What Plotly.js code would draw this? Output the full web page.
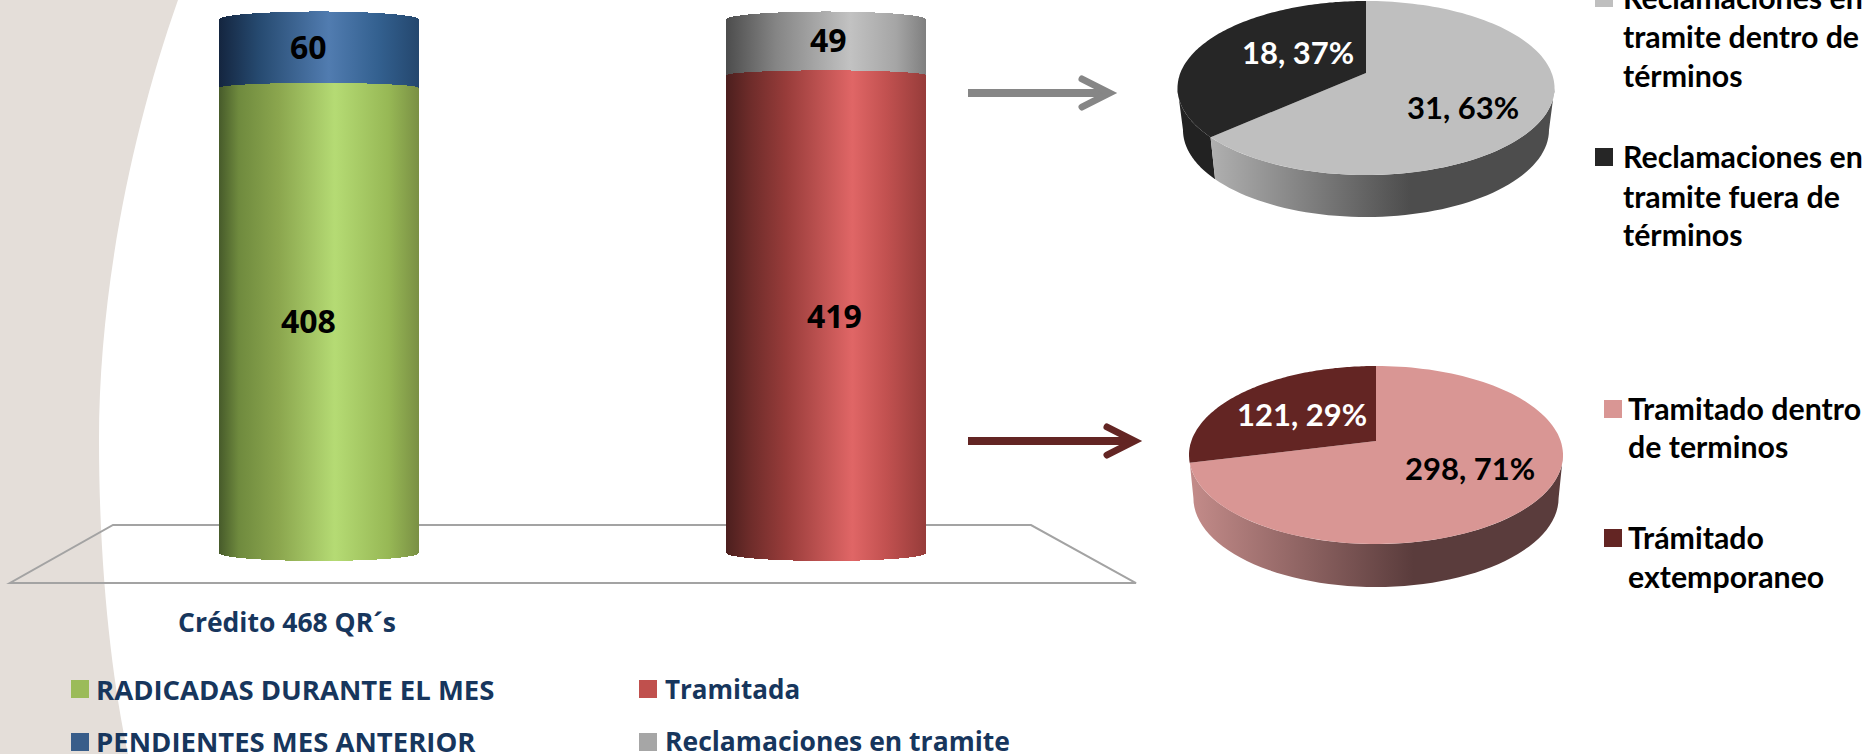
<!DOCTYPE html>
<html><head><meta charset="utf-8">
<script src="https://cdn.plot.ly/plotly-3.0.1.min.js"></script>
<style>html,body{margin:0;padding:0;background:#fff;overflow:hidden}</style>
</head><body><div id="chart" style="width:1868px;height:754px"></div>
<script>
// ---- data ----
const radicadas = 408, pendientes = 60, tramitada = 419, enTramite = 49;
const barSeriesNames = ["RADICADAS DURANTE EL MES", "PENDIENTES MES ANTERIOR", "Tramitada", "Reclamaciones en tramite"];
const categoryLabel = "Crédito 468 QR´s";
const pieTopValues = [31, 18];
const pieTopNames = ["Reclamaciones en tramite dentro de términos", "Reclamaciones en tramite fuera de términos"];
const pieBottomValues = [298, 121];
const pieBottomNames = ["Tramitado dentro de terminos", "Trámitado extemporaneo"];

// ---- helpers ----
const W = 1868, H = 754;
const fx = x => x / W, fy = y => 1 - y / H;
const NAVY = "#17365D";
const LEFT = "Open Sans, sans-serif", RIGHT = "Lato, sans-serif";
const pathOf = pts => "M" + pts.map(p => fx(p[0]).toFixed(5) + "," + fy(p[1]).toFixed(5)).join("L");
const rect = (x0, y0, x1, y1, color) => ({type:"rect", xref:"paper", yref:"paper", layer:"below",
  x0:fx(x0), x1:fx(x1), y0:fy(y0), y1:fy(y1), fillcolor:color, line:{width:0}});
const label = (text, x, y, size, color, family, anchor) => ({text, x:fx(x), y:fy(y), xref:"paper", yref:"paper",
  xanchor:anchor||"left", yanchor:"middle", showarrow:false, font:{family, size, color, weight:700}});

// perspective projection of a pie rim: true angle -> point on the ellipse
function rim(p, frac) {
  const t = frac * 2 * Math.PI, u = Math.sin(t), v = -Math.cos(t);
  const d = 1 + p.b * v;
  return [u * Math.sqrt(1 - p.b * p.b) / d, (v + p.b) / d];
}
const rimXY = (p, frac) => { const r = rim(p, frac); return [p.cx + r[0] * p.rx, p.cy + r[1] * p.ry]; };
function wall(p, phiA, phiB) {
  const top = [], bot = [], N = 60;
  for (let i = 0; i <= N; i++) {
    const f = phiA + (phiB - phiA) * i / N, s = Math.sin(f), c = Math.cos(f);
    top.push([p.cx + s * p.rx, p.cy + c * p.ry]);
    bot.unshift([p.cx + s * p.rxB, p.cyB + c * p.ry]);
  }
  return pathOf(top.concat(bot)) + "Z";
}
const pieTopGeo = {cx:1366, cy:88, rx:188.5, ry:87, b:-0.172, rxB:183, cyB:130};
const pieBotGeo = {cx:1376, cy:455, rx:187, ry:89, b:-0.157, rxB:182.6, cyB:498};

// ---- bars ----
const barWidth = 0.394;
const bars = [
  {x:[0], y:[radicadas], name:barSeriesNames[0], color:"#9BBB59"},
  {x:[0], y:[pendientes], name:barSeriesNames[1], color:"#385D8A"},
  {x:[1], y:[tramitada], name:barSeriesNames[2], color:"#C0504D"},
  {x:[1], y:[enTramite], name:barSeriesNames[3], color:"#A6A6A6"}
].map(b => ({type:"bar", x:b.x, y:b.y, name:b.name, width:barWidth, cliponaxis:false,
  marker:{color:b.color, line:{width:0}}, hoverinfo:"skip", showlegend:false, xaxis:"x", yaxis:"y"}));

const pieTrace = (values, names, colors, geo) => ({type:"pie", values, labels:names, sort:false, direction:"clockwise",
  rotation:0, textinfo:"none", hoverinfo:"skip", showlegend:false,
  marker:{colors, line:{width:0}},
  domain:{x:[fx(geo.cx-geo.rx), fx(geo.cx+geo.rx)], y:[fy(geo.cy+geo.ry), Math.min(1,fy(geo.cy-geo.ry))]}});
const pies = [
  pieTrace(pieTopValues, pieTopNames, ["#BFBFBF", "#262626"], pieTopGeo),
  pieTrace(pieBottomValues, pieBottomNames, ["#D99694", "#632523"], pieBotGeo)
];

// ---- gradients (sentinel fill -> stops) ----
const gradients = {
  "rgb(1, 0, 1)": [[0,"#B0B0B0"],[.58,"#4D4D4D"],[1,"#4D4D4D"]],
  "rgb(1, 0, 2)": [[0,"#C48C8A"],[.6,"#5A3C3C"],[1,"#5A3C3C"]]
};
const barGradients = [
  [[0,"#465A2A"],[.1,"#6F8A3E"],[.3,"#8BA64E"],[.58,"#B5DB74"],[.85,"#97B855"],[1,"#7A9044"]],
  [[0,"#14253F"],[.2,"#264A70"],[.55,"#517CB0"],[.8,"#33608F"],[1,"#24476E"]],
  [[0,"#4C1F1E"],[.12,"#6E2C2A"],[.3,"#983C3A"],[.63,"#E06666"],[.8,"#C25150"],[1,"#963C3A"]],
  [[0,"#4D4D4D"],[.25,"#858585"],[.62,"#C2C2C2"],[.85,"#A5A5A5"],[1,"#7F7F7F"]]
];

// ---- decoration ----
const split = rim(pieTopGeo, pieTopValues[0] / (pieTopValues[0] + pieTopValues[1]));
const splitPhi = Math.atan2(split[0], split[1]);
const shapes = [
  {type:"path", xref:"paper", yref:"paper", layer:"below", line:{width:0}, fillcolor:"#E4DED9",
   path:"M0,1 L"+fx(178)+",1 C"+fx(132)+","+fy(130)+" "+fx(99)+","+fy(290)+" "+fx(99)+","+fy(440)
     +" C"+fx(99)+","+fy(570)+" "+fx(112)+","+fy(680)+" "+fx(128)+",0 L0,0 Z"},
  {type:"path", xref:"paper", yref:"paper", layer:"below", fillcolor:"rgba(0,0,0,0)", line:{color:"#A3A3A3", width:2},
   path:pathOf([[113,525],[1031,525],[1136,583],[10,583]])+"Z"},
  rect(968, 89, 1108, 97, "#868686"),
  {type:"path", xref:"paper", yref:"paper", layer:"below", fillcolor:"rgba(0,0,0,0)", line:{color:"#868686", width:7},
   path:pathOf([[1082,79],[1109.5,93],[1082,107]])},
  rect(968, 437, 1134, 445, "#632523"),
  {type:"path", xref:"paper", yref:"paper", layer:"below", fillcolor:"rgba(0,0,0,0)", line:{color:"#632523", width:7},
   path:pathOf([[1107,427],[1134.5,441],[1107,455]])},
  // pie side walls
  {type:"path", xref:"paper", yref:"paper", layer:"below", line:{width:0}, fillcolor:"#222222",
   path:wall(pieTopGeo, -Math.PI/2, splitPhi)},
  {type:"path", xref:"paper", yref:"paper", layer:"below", line:{width:0}, fillcolor:"rgb(1,0,1)",
   path:wall(pieTopGeo, splitPhi, Math.PI/2)},
  {type:"path", xref:"paper", yref:"paper", layer:"below", line:{width:0}, fillcolor:"rgb(1,0,2)",
   path:wall(pieBotGeo, -Math.PI/2, Math.PI/2)},
  // legend swatches
  rect(71, 680, 89, 698, "#9BBB59"),
  rect(71, 733, 89, 751, "#385D8A"),
  rect(639, 680, 657, 698, "#C0504D"),
  rect(639, 733, 657, 751, "#A6A6A6"),
  rect(1595, -11, 1613, 7, "#BFBFBF"),
  rect(1595, 148, 1613, 166, "#262626"),
  rect(1604, 400, 1622, 418, "#D99694"),
  rect(1604, 529, 1622, 547, "#632523")
];

const valueLabel = (v, xCat, yMid, dx, dy) => ({text:String(v), x:xCat, y:yMid, xref:"x", yref:"y", xshift:dx, yshift:dy,
  showarrow:false, xanchor:"center", yanchor:"middle", font:{family:LEFT, size:32, color:"#000", weight:700}});
const pieText = (values, i) => values[i] + ", " + Math.round(100 * values[i] / values.reduce((a,b)=>a+b)) + "%";

const annotations = [
  valueLabel(radicadas, 0, radicadas/2, -10, 0),
  valueLabel(pendientes, 0, radicadas+pendientes/2, -10, 7),
  valueLabel(tramitada, 1, tramitada/2, 8, -1),
  valueLabel(enTramite, 1, tramitada+enTramite/2, 2, 8),
  label(categoryLabel, 287, 622, 26.5, NAVY, LEFT, "center"),
  label(barSeriesNames[0], 94, 689, 27.5, NAVY, LEFT),
  label(barSeriesNames[1], 94, 741, 27.5, NAVY, LEFT),
  label(barSeriesNames[2], 663, 689, 26, NAVY, LEFT),
  label(barSeriesNames[3], 663, 741, 26.5, NAVY, LEFT),
  label(pieText(pieTopValues,1), 1298, 52, 31, "#fff", RIGHT, "center"),
  label(pieText(pieTopValues,0), 1463, 107, 31, "#000", RIGHT, "center"),
  label(pieText(pieBottomValues,1), 1302, 414, 31, "#fff", RIGHT, "center"),
  label(pieText(pieBottomValues,0), 1470, 468, 31, "#000", RIGHT, "center"),
  label("Reclamaciones en", 1621, -3, 30.3, "#000", RIGHT),
  label("tramite dentro de", 1621, 36, 30.3, "#000", RIGHT),
  label("términos", 1621, 75, 30.3, "#000", RIGHT),
  label("Reclamaciones en", 1621, 156, 30.3, "#000", RIGHT),
  label("tramite fuera de", 1621, 196, 30.3, "#000", RIGHT),
  label("términos", 1621, 234, 30.3, "#000", RIGHT),
  label("Tramitado dentro", 1626, 408, 30.3, "#000", RIGHT),
  label("de terminos", 1626, 446, 30.3, "#000", RIGHT),
  label("Trámitado", 1626, 537, 30.3, "#000", RIGHT),
  label("extemporaneo", 1626, 576, 30.3, "#000", RIGHT)
];

const pxPerUnit = 1.14, floorPad = 24;   // axis runs a little below zero so the cylinder base is not clipped
const layout = {
  width:W, height:H, margin:{l:0,r:0,t:0,b:0}, paper_bgcolor:"#fff", plot_bgcolor:"rgba(0,0,0,0)",
  barmode:"stack", showlegend:false,
  xaxis:{domain:[fx(65), fx(1080)], range:[-0.5,1.5], visible:false, fixedrange:true},
  yaxis:{domain:[fy(553+floorPad), 1], range:[-floorPad/pxPerUnit,553/pxPerUnit], visible:false, fixedrange:true},
  shapes, annotations
};

const gd = document.getElementById("chart");
Plotly.newPlot(gd, bars.concat(pies), layout, {displayModeBar:false, staticPlot:true}).then(() => {
  const svg = gd.querySelector("svg.main-svg");
  const defs = svg.querySelector("defs") || svg.insertBefore(document.createElementNS(svg.namespaceURI,"defs"), svg.firstChild);
  let gid = 0;
  const addGrad = stops => {
    const g = document.createElementNS(svg.namespaceURI, "linearGradient");
    const id = "grad" + (gid++);
    g.setAttribute("id", id); g.setAttribute("x1","0"); g.setAttribute("x2","1"); g.setAttribute("y1","0"); g.setAttribute("y2","0");
    stops.forEach(s => { const e = document.createElementNS(svg.namespaceURI,"stop");
      e.setAttribute("offset", s[0]); e.setAttribute("stop-color", s[1]); g.appendChild(e); });
    defs.appendChild(g);
    return "url(#" + id + ")";
  };
  // shapes: gradient fills, rounded arrow heads
  gd.querySelectorAll(".shapelayer path").forEach(p => {
    const f = p.style.fill;
    if (gradients[f]) p.style.fill = addGrad(gradients[f]);
    const sw = parseFloat(p.style.strokeWidth || "0");
    if (sw >= 7) { p.style.strokeLinecap = "round"; p.style.strokeLinejoin = "miter"; }
  });
  // bars: cylinder outline + gradient
  const bulge = [[8,5],[5,8],[8,5],[5,8]];
  gd.querySelectorAll(".barlayer .trace").forEach((tr, i) => {
    const p = tr.querySelector(".point path");
    const n = p.getAttribute("d").match(/-?[\d.]+/g).map(Number); // x0,y0,y1,x1
    const x0=n[0], y0=n[1], y1=n[2], x1=n[3], rx=(x1-x0)/2, b=bulge[i];
    const sweepBottom = i%2===0 ? 0 : 1;
    p.setAttribute("d", `M${x0},${y0}A${rx},${b[0]} 0 0 ${sweepBottom} ${x1},${y0}V${y1}A${rx},${b[1]} 0 0 0 ${x0},${y1}Z`);
    p.style.fill = addGrad(barGradients[i]);
  });
  // pies: perspective reprojection of the computed slices
  const geos = [pieTopGeo, pieBotGeo], vals = [pieTopValues, pieBottomValues];
  gd.querySelectorAll(".pielayer .trace").forEach((tr, i) => {
    const p = geos[i], v = vals[i], total = v.reduce((a,b)=>a+b);
    let cum = 0;
    tr.querySelectorAll(".slice").forEach((s, j) => {
      const path = s.querySelector("path.surface") || s.querySelector("path");
      const a = cum/total, e = (cum+v[j])/total; cum += v[j];
      const apex = [p.cx, p.cy + p.b*p.ry], pts = [apex];
      for (let k=0;k<=120;k++) pts.push(rimXY(p, a+(e-a)*k/120));
      path.setAttribute("d", "M"+pts.map(q=>q[0].toFixed(1)+","+q[1].toFixed(1)).join("L")+"Z");
      path.removeAttribute("transform");
      s.removeAttribute("transform");
    });
  });
});
</script></body></html>
